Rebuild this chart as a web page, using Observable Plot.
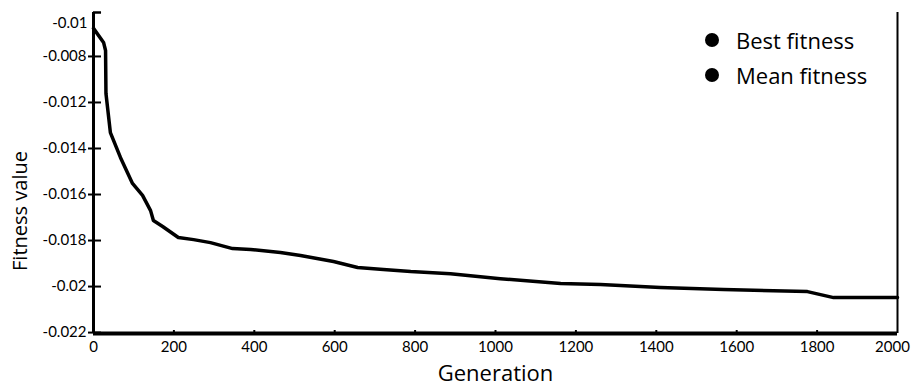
<!DOCTYPE html>
<html><head><meta charset="utf-8">
<script src="https://cdn.jsdelivr.net/npm/d3@7"></script>
<script src="https://cdn.jsdelivr.net/npm/@observablehq/plot@0.6"></script>
<style>
body{margin:0;background:#fff;}
#wrap{position:relative;width:912px;height:387px;}
#legend{position:absolute;left:705px;top:22px;font-family:"Open Sans",sans-serif;font-size:22px;color:#000;}
.row{display:flex;align-items:center;height:35px;}
.dot{width:14px;height:14px;border-radius:50%;background:#000;margin-right:17px;}
</style></head><body><div id="wrap"><div id="legend"></div></div>
<script>
// Data
const generations = [0, 25, 30, 31, 42, 67, 97, 122, 142, 149, 172, 211, 249, 291, 346, 391, 465, 515, 597, 657, 721, 789, 888, 1012, 1162, 1261, 1410, 1567, 1776, 1841, 2000];
const fitness = [-0.00878, -0.00939, -0.00974, -0.01161, -0.01331, -0.01439, -0.01552, -0.01604, -0.0167, -0.01713, -0.01739, -0.01787, -0.01796, -0.01809, -0.01835, -0.01839, -0.01852, -0.01865, -0.01891, -0.01917, -0.01926, -0.01935, -0.01944, -0.01966, -0.01987, -0.01991, -0.02004, -0.02013, -0.02022, -0.02048, -0.02048];
const xTicks = [0, 200, 400, 600, 800, 1000, 1200, 1400, 1600, 1800];
const xLastTick = [2000];
const yTickValues = [-0.022, -0.020, -0.018, -0.016, -0.014, -0.012, -0.010];
const yTickLabels = ["-0.022", "-0.02", "-0.018", "-0.016", "-0.014", "-0.012", "-0.008"];
const yTopLabelValue = [-0.00865];
const yTopLabel = ["-0.01"];
const legendLabels = ["Best fitness", "Mean fitness"];

const data = generations.map((g, i) => ({g, f: fitness[i]}));
const yDomain = [-0.02204, -0.00809];

const chart = Plot.plot({
  width: 912, height: 387,
  marginLeft: 93, marginRight: 15, marginTop: 12, marginBottom: 54,
  style: {fontFamily: "Lato, sans-serif", fontSize: "15px", color: "#000", background: "#fff"},
  x: {domain: [0, 2000], label: null},
  y: {domain: yDomain, label: null},
  marks: [
    Plot.ruleX([0], {strokeWidth: 3}),
    Plot.ruleY([yDomain[1]], {x1: 0, x2: 20, strokeWidth: 2.5}),
    Plot.ruleY([yDomain[0]], {strokeWidth: 4}),
    Plot.axisY(yTickValues, {tickSize: 13, dx: 8, tickPadding: 2, strokeWidth: 2, tickFormat: d => yTickLabels[yTickValues.indexOf(d)], label: null}),
    Plot.axisY(yTopLabelValue, {tickSize: 0, tickPadding: 6, dy: -2, tickFormat: () => yTopLabel[0], label: null}),
    Plot.axisX(xTicks, {tickSize: 3, dy: -3, tickPadding: 8, strokeWidth: 2, tickFormat: d => String(d), label: null}),
    Plot.axisX(xLastTick, {tickSize: 0, dy: -3, dx: -5, tickPadding: 11, tickFormat: d => String(d), label: null}),
    Plot.tickX(xLastTick, {y1: yDomain[0], y2: -0.0218, strokeWidth: 2}),
    Plot.line(data, {x: "g", y: "f", stroke: "#000", strokeWidth: 3.5, strokeLinejoin: "round"}),
    Plot.text(["Fitness value"], {frameAnchor: "left", textAnchor: "middle", rotate: -90, dx: -73, dy: 38, fontSize: 20, fontFamily: "Open Sans"}),
    Plot.text(["Generation"], {frameAnchor: "bottom", dy: 47, fontSize: 22, fontFamily: "Open Sans"})
  ]
});
document.getElementById("wrap").prepend(chart);
const lg = document.getElementById("legend");
legendLabels.forEach(l => {
  const r = document.createElement("div"); r.className = "row";
  const d = document.createElement("div"); d.className = "dot";
  const t = document.createElement("span"); t.textContent = l;
  r.append(d, t); lg.append(r);
});
</script></body></html>
